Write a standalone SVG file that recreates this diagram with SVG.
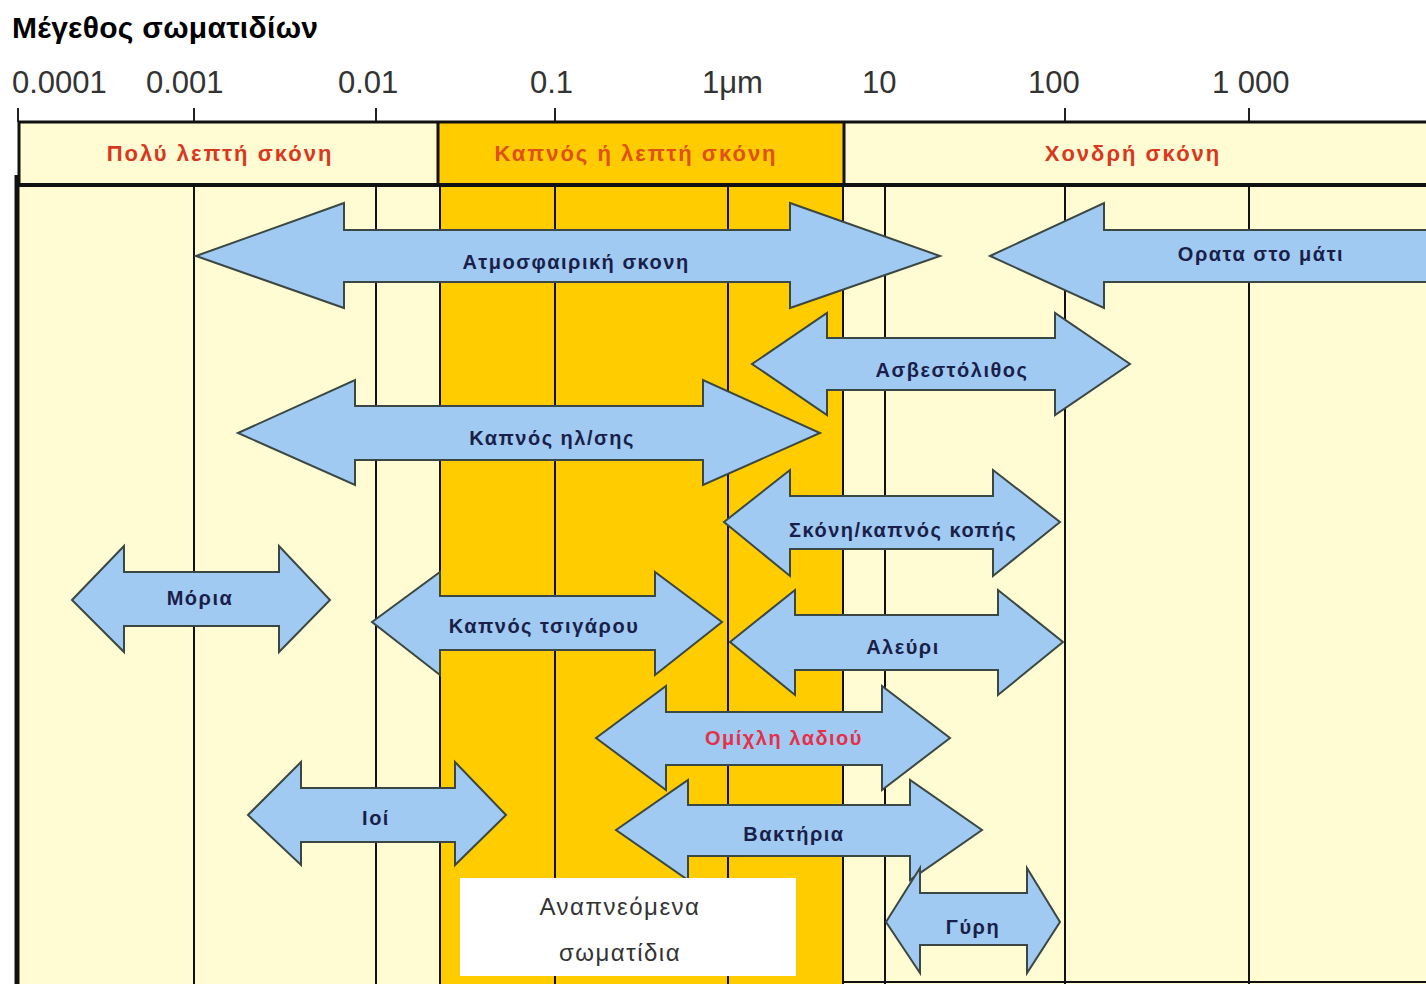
<svg xmlns="http://www.w3.org/2000/svg" width="1426" height="984" viewBox="0 0 1426 984">
<style>
.title{font-family:"Liberation Sans",Arial,sans-serif;font-weight:bold;font-size:30px;fill:#000;letter-spacing:0.3px}
.ax{font-family:"Liberation Sans",Arial,sans-serif;font-size:31px;fill:#333}
.hd{font-family:"Liberation Sans",Arial,sans-serif;font-weight:bold;font-size:22px;fill:#D9381E;text-anchor:middle;letter-spacing:2px}
.ar{fill:#A0CAF2;stroke:#3b4742;stroke-width:2;stroke-linejoin:miter}
.lb{font-family:"Liberation Sans",Arial,sans-serif;font-weight:bold;font-size:20px;fill:#1a1f4a;text-anchor:middle;letter-spacing:1.5px}
.red{fill:#E5304A}
.vl{stroke:#111;stroke-width:2}
.tk{stroke:#222;stroke-width:2}
.resp{font-family:"Liberation Sans",Arial,sans-serif;font-size:24px;fill:#333;text-anchor:middle;letter-spacing:1.5px}
</style>
<rect x="0" y="0" width="1426" height="984" fill="#fff"/>
<text class="title" x="12" y="38">Μέγεθος σωματιδίων</text>
<g id="axis">
<text class="ax" x="12" y="93">0.0001</text>
<text class="ax" x="146" y="93">0.001</text>
<text class="ax" x="338" y="93">0.01</text>
<text class="ax" x="530" y="93">0.1</text>
<text class="ax" x="702" y="93">1μm</text>
<text class="ax" x="862" y="93">10</text>
<text class="ax" x="1028" y="93">100</text>
<text class="ax" x="1212" y="93">1 000</text>
<line class="tk" x1="18" y1="108" x2="18" y2="122"/>
<line class="tk" x1="194" y1="108" x2="194" y2="122"/>
<line class="tk" x1="376" y1="108" x2="376" y2="122"/>
<line class="tk" x1="555" y1="108" x2="555" y2="122"/>
<line class="tk" x1="1065" y1="108" x2="1065" y2="122"/>
<line class="tk" x1="1249" y1="108" x2="1249" y2="122"/>
</g>
<g id="background">
<rect x="18" y="122" width="1408" height="862" fill="#FFFBD3"/>
<rect x="438" y="122" width="406" height="63" fill="#FFCC00"/>
<rect x="440" y="185" width="402" height="799" fill="#FFCC00"/>
<line class="vl" x1="194" y1="185" x2="194" y2="984"/>
<line class="vl" x1="376" y1="185" x2="376" y2="984"/>
<line class="vl" x1="440" y1="185" x2="440" y2="984"/>
<line class="vl" x1="555" y1="185" x2="555" y2="984"/>
<line class="vl" x1="728" y1="185" x2="728" y2="984"/>
<line class="vl" x1="843" y1="185" x2="843" y2="984"/>
<line class="vl" x1="885" y1="185" x2="885" y2="984"/>
<line class="vl" x1="1065" y1="185" x2="1065" y2="984"/>
<line class="vl" x1="1249" y1="185" x2="1249" y2="984"/>
<line class="vl" x1="843" y1="982" x2="1426" y2="982"/>
<line stroke="#111" stroke-width="3" x1="18" y1="122" x2="1426" y2="122"/>
<line stroke="#111" stroke-width="4" x1="16" y1="185" x2="1426" y2="185"/>
<line stroke="#111" stroke-width="3" x1="19" y1="122" x2="19" y2="185"/>
<line stroke="#111" stroke-width="5" x1="17" y1="175" x2="17" y2="984"/>
<line stroke="#111" stroke-width="3" x1="438" y1="122" x2="438" y2="185"/>
<line stroke="#111" stroke-width="3" x1="844" y1="122" x2="844" y2="185"/>
</g>
<g id="headers">
<text class="hd" x="220" y="161">Πολύ λεπτή σκόνη</text>
<text class="hd" x="636" y="161" style="fill:#E0501A">Καπνός ή λεπτή σκόνη</text>
<text class="hd" x="1133" y="161">Χονδρή σκόνη</text>
</g>
<g id="connectors">
<g id="atmo"><polygon class="ar" points="196,256 344,203 344,230 790,230 790,203 940,256 790,308 790,282 344,282 344,308"/><text class="lb" x="576" y="269">Ατμοσφαιρική σκονη</text></g>
<g id="visible"><polygon class="ar" points="990,256 1104,203 1104,230 1440,230 1440,282 1104,282 1104,308"/><text class="lb" x="1261" y="261">Ορατα στο μάτι</text></g>
<g id="asvest"><polygon class="ar" points="752,364 827,313 827,338 1055,338 1055,313 1130,364 1055,415 1055,390 827,390 827,415"/><text class="lb" x="952" y="377">Ασβεστόλιθος</text></g>
<g id="weld"><polygon class="ar" points="238,433 355,380 355,406 703,406 703,380 820,433 703,485 703,460 355,460 355,485"/><text class="lb" x="552" y="445">Καπνός ηλ/σης</text></g>
<g id="cut"><polygon class="ar" points="724,522 790,470 790,496 993,496 993,470 1060,522 993,576 993,549 790,549 790,576"/><text class="lb" x="903" y="537">Σκόνη/καπνός κοπής</text></g>
<g id="molecules"><polygon class="ar" points="72,600 124,546 124,572 279,572 279,546 330,600 279,652 279,626 124,626 124,652"/><text class="lb" x="200" y="605">Μόρια</text></g>
<g id="cig"><polygon class="ar" points="372,622 440,572 440,596 655,596 655,572 722,622 655,675 655,650 440,650 440,675"/><text class="lb" x="544" y="633">Καπνός τσιγάρου</text></g>
<g id="flour"><polygon class="ar" points="730,642 795,590 795,615 998,615 998,590 1063,642 998,695 998,670 795,670 795,695"/><text class="lb" x="903" y="654">Αλεύρι</text></g>
<g id="oil"><polygon class="ar" points="596,738 666,686 666,712 882,712 882,686 950,738 882,790 882,765 666,765 666,790"/><text class="lb red" x="784" y="745">Ομίχλη λαδιού</text></g>
<g id="virus"><polygon class="ar" points="248,815 301,762 301,788 455,788 455,762 506,815 455,865 455,842 301,842 301,865"/><text class="lb" x="376" y="825">Ιοί</text></g>
<g id="bact"><polygon class="ar" points="616,830 688,780 688,805 910,805 910,780 982,830 910,880 910,856 688,856 688,880"/><text class="lb" x="794" y="841">Βακτήρια</text></g>
<g id="pollen"><polygon class="ar" points="886,922 920,868 920,893 1027,893 1027,868 1060,922 1027,973 1027,945 920,945 920,973"/><text class="lb" x="973" y="934">Γύρη</text></g>
</g>
<g id="respirable">
<rect x="460" y="878" width="336" height="98" fill="#fff"/>
<text class="resp" x="620" y="915">Αναπνεόμενα</text>
<text class="resp" x="620" y="961">σωματίδια</text>
</g>
</svg>
